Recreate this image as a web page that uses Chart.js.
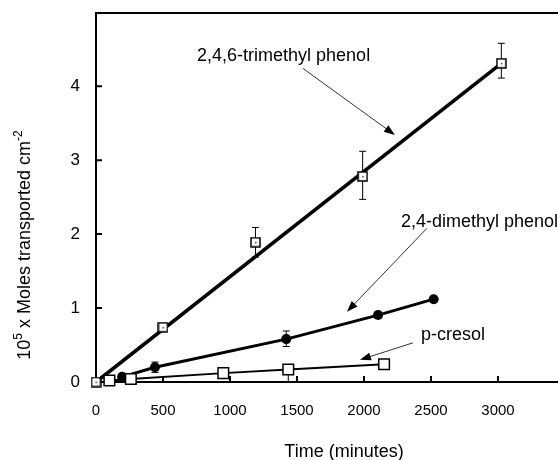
<!DOCTYPE html>
<html>
<head>
<meta charset="utf-8">
<script src="https://cdn.jsdelivr.net/npm/chart.js@4.4.0/dist/chart.umd.min.js"></script>
<style>
  body { margin: 0; background: #fff; }
  #wrap { width: 558px; height: 460px; position: relative; }
</style>
</head>
<body>
<div id="wrap"><canvas id="myChart"></canvas></div>
<script>
// values
const xTicks = [0, 500, 1000, 1500, 2000, 2500, 3000];
const yTicks = [0, 1, 2, 3, 4];

const trimethylTime = [0, 500, 1190, 1990, 3025];
const trimethylMoles = [0, 0.74, 1.89, 2.78, 4.31];
const trimethylErrUp = [0, 0, 0.2, 0.34, 0.27];
const trimethylErrDown = [0, 0, 0.2, 0.31, 0.2];
const trimethylFitTime = [0, 3025];
const trimethylFitMoles = [0, 4.31];

const dimethylTime = [195, 440, 1420, 2105, 2520];
const dimethylMoles = [0.07, 0.2, 0.58, 0.905, 1.12];
const dimethylErrUp = [0, 0.07, 0.11, 0.04, 0];
const dimethylErrDown = [0, 0.07, 0.1, 0.04, 0];

const cresolTime = [100, 260, 950, 1435, 2150];
const cresolMoles = [0.02, 0.04, 0.12, 0.17, 0.24];
const cresolErrUp = [0, 0, 0, 0, 0];
const cresolErrDown = [0, 0, 0, 0.17, 0];

const font = '"Liberation Sans", Arial, sans-serif';

function pts(xs, ys) {
    return xs.map((x, i) => ({ x: x, y: ys[i] }));
}

// open square with a small dot in the middle
function dotSquare() {
    const c = document.createElement('canvas');
    c.width = 11;
    c.height = 11;
    const g = c.getContext('2d');
    g.fillStyle = '#fff';
    g.fillRect(1, 1, 9, 9);
    g.strokeStyle = '#000';
    g.lineWidth = 1.5;
    g.strokeRect(1, 1, 9, 9);
    g.fillStyle = '#444';
    g.fillRect(5, 5, 1.5, 1.5);
    return c;
}

function arrow(ctx, x1, y1, x2, y2) {
    const a = Math.atan2(y2 - y1, x2 - x1);
    ctx.beginPath();
    ctx.moveTo(x1, y1);
    ctx.lineTo(x2 - 8 * Math.cos(a), y2 - 8 * Math.sin(a));
    ctx.lineWidth = 0.8;
    ctx.stroke();
    ctx.beginPath();
    ctx.moveTo(x2, y2);
    ctx.lineTo(x2 - 11 * Math.cos(a) + 4 * Math.sin(a), y2 - 11 * Math.sin(a) - 4 * Math.cos(a));
    ctx.lineTo(x2 - 11 * Math.cos(a) - 4 * Math.sin(a), y2 - 11 * Math.sin(a) + 4 * Math.cos(a));
    ctx.closePath();
    ctx.fill();
}

const errorSets = [
    [trimethylTime, trimethylMoles, trimethylErrUp, trimethylErrDown],
    [dimethylTime, dimethylMoles, dimethylErrUp, dimethylErrDown],
    [cresolTime, cresolMoles, cresolErrUp, cresolErrDown]
];

const extras = {
    id: 'extras',
    beforeDatasetsDraw(chart) {
        const ctx = chart.ctx;
        const xs = chart.scales.x, ys = chart.scales.y;
        ctx.save();
        ctx.strokeStyle = '#000';
        ctx.lineWidth = 1;
        errorSets.forEach(s => {
            for (let i = 0; i < s[0].length; i++) {
                if (!s[2][i] && !s[3][i]) continue;
                const px = xs.getPixelForValue(s[0][i]);
                const top = ys.getPixelForValue(s[1][i] + s[2][i]);
                const bot = ys.getPixelForValue(s[1][i] - s[3][i]);
                ctx.beginPath();
                ctx.moveTo(px, top);
                ctx.lineTo(px, bot);
                if (s[2][i]) { ctx.moveTo(px - 3.5, top); ctx.lineTo(px + 3.5, top); }
                if (s[3][i]) { ctx.moveTo(px - 3.5, bot); ctx.lineTo(px + 3.5, bot); }
                ctx.stroke();
            }
        });
        ctx.restore();
    },
    afterDraw(chart) {
        const ctx = chart.ctx;
        const area = chart.chartArea;
        const xs = chart.scales.x, ys = chart.scales.y;
        ctx.save();
        ctx.strokeStyle = '#000';
        ctx.fillStyle = '#000';

        // top frame line
        ctx.lineWidth = 2;
        ctx.beginPath();
        ctx.moveTo(area.left - 1, area.top);
        ctx.lineTo(area.right, area.top);
        ctx.stroke();

        // inward tick marks
        ctx.lineWidth = 2;
        ctx.beginPath();
        yTicks.slice(1).forEach(v => {
            const py = ys.getPixelForValue(v);
            ctx.moveTo(area.left, py);
            ctx.lineTo(area.left + 6, py);
        });
        xTicks.slice(1).forEach(v => {
            const px = xs.getPixelForValue(v);
            ctx.moveTo(px, area.bottom);
            ctx.lineTo(px, area.bottom - 6);
        });
        ctx.stroke();

        // labels and arrows
        ctx.font = '18px ' + font;
        ctx.textBaseline = 'middle';
        ctx.textAlign = 'center';
        ctx.fillText('2,4,6-trimethyl phenol', xs.getPixelForValue(1400), ys.getPixelForValue(4.41));
        ctx.textAlign = 'left';
        ctx.fillText('2,4-dimethyl phenol', xs.getPixelForValue(2276), ys.getPixelForValue(2.16));
        ctx.fillText('p-cresol', xs.getPixelForValue(2425), ys.getPixelForValue(0.64));

        arrow(ctx, xs.getPixelForValue(1545), ys.getPixelForValue(4.24), xs.getPixelForValue(2231), ys.getPixelForValue(3.34));
        arrow(ctx, xs.getPixelForValue(2470), ys.getPixelForValue(2.08), xs.getPixelForValue(1873), ys.getPixelForValue(0.95));
        arrow(ctx, xs.getPixelForValue(2366), ys.getPixelForValue(0.53), xs.getPixelForValue(1970), ys.getPixelForValue(0.30));

        // axis titles
        ctx.textAlign = 'center';
        ctx.font = '18px ' + font;
        ctx.fillText('Time (minutes)', 344, 452);

        ctx.translate(25, 245);
        ctx.rotate(-Math.PI / 2);
        const parts = [['10', 18, 0], ['5', 12, -6], [' x Moles transported cm', 18, 0], ['-2', 12, -6]];
        let total = 0;
        parts.forEach(p => { ctx.font = p[1] + 'px ' + font; total += ctx.measureText(p[0]).width; });
        let cx = -total / 2;
        ctx.textAlign = 'left';
        parts.forEach(p => {
            ctx.font = p[1] + 'px ' + font;
            ctx.fillText(p[0], cx, p[2]);
            cx += ctx.measureText(p[0]).width;
        });
        ctx.restore();
    }
};

const ctx = document.getElementById('myChart');

new Chart(ctx, {
    type: 'scatter',
    data: {
        datasets: [
            {
                label: '2,4,6-trimethyl phenol',
                data: pts(trimethylTime, trimethylMoles),
                pointStyle: dotSquare(),
                showLine: false,
                clip: false
            },
            {
                label: 'p-cresol',
                data: pts(cresolTime, cresolMoles),
                pointStyle: 'rect',
                pointRadius: 7.5,
                backgroundColor: '#fff',
                borderColor: '#000',
                pointBorderWidth: 1.5,
                borderWidth: 2,
                showLine: true,
                clip: false
            },
            {
                label: '2,4-dimethyl phenol',
                data: pts(dimethylTime, dimethylMoles),
                pointStyle: 'circle',
                pointRadius: 5,
                backgroundColor: '#000',
                borderColor: '#000',
                pointBorderWidth: 0,
                borderWidth: 3,
                showLine: true,
                clip: false
            },
            {
                label: 'fit',
                data: pts(trimethylFitTime, trimethylFitMoles),
                pointRadius: 0,
                borderColor: '#000',
                borderWidth: 3.5,
                showLine: true,
                clip: false
            }
        ]
    },
    options: {
        responsive: true,
        maintainAspectRatio: false,
        animation: false,
        devicePixelRatio: 1,
        layout: {
            autoPadding: false,
            padding: { top: 13, right: 0, left: 0, bottom: 0 }
        },
        plugins: {
            legend: { display: false },
            tooltip: { enabled: false }
        },
        scales: {
            x: {
                type: 'linear',
                min: 0,
                max: 3448,
                afterBuildTicks: s => { s.ticks = xTicks.map(v => ({ value: v })); },
                afterFit: s => { s.height = 78; s.paddingLeft = 0; s.paddingRight = 0; },
                grid: { display: false, drawTicks: false },
                border: { display: true, color: '#000', width: 2 },
                ticks: {
                    color: '#000',
                    padding: 20,
                    maxRotation: 0,
                    callback: v => String(v),
                    font: { family: font, size: 15 }
                }
            },
            y: {
                type: 'linear',
                min: 0,
                max: 4.99,
                afterBuildTicks: s => { s.ticks = yTicks.map(v => ({ value: v })); },
                afterFit: s => { s.width = 96; s.paddingTop = 0; s.paddingBottom = 0; },
                grid: { display: false, drawTicks: false },
                border: { display: true, color: '#000', width: 2 },
                ticks: {
                    color: '#000',
                    padding: 16,
                    callback: v => String(v),
                    font: { family: font, size: 17 }
                }
            }
        }
    },
    plugins: [extras]
});
</script>
</body>
</html>
